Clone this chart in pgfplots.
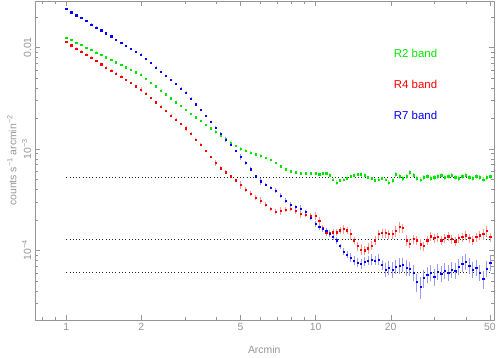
\documentclass[border=0pt]{standalone}
\usepackage{fontspec}
\setmainfont{Liberation Sans}
\usepackage{pgfplots}
\pgfplotsset{compat=1.18}
\usepackage{pgfplotstable}
\definecolor{txtgray}{RGB}{150,150,150}
\definecolor{pgreen}{RGB}{0,230,0}
\definecolor{pred}{RGB}{255,0,0}
\definecolor{pblue}{RGB}{0,0,255}

% radius, R2 (g), R4 (r), R7 (b) with relative errors
\pgfplotstableread{
x g eg r er b eb
1.000 1.25e-2 .02 1.13e-2 .03 2.39e-2 .02
1.047 1.19e-2 .02 1.05e-2 .03 2.23e-2 .02
1.096 1.12e-2 .02 9.79e-3 .03 2.08e-2 .02
1.148 1.06e-2 .02 9.12e-3 .03 1.95e-2 .02
1.202 1.00e-2 .02 8.49e-3 .03 1.82e-2 .02
1.259 9.46e-3 .02 7.91e-3 .03 1.69e-2 .02
1.318 8.95e-3 .02 7.35e-3 .03 1.58e-2 .02
1.380 8.47e-3 .02 6.84e-3 .03 1.48e-2 .02
1.445 8.00e-3 .02 6.37e-3 .03 1.38e-2 .02
1.514 7.57e-3 .02 5.93e-3 .03 1.29e-2 .02
1.585 7.16e-3 .02 5.52e-3 .03 1.20e-2 .02
1.660 6.76e-3 .02 5.14e-3 .03 1.12e-2 .02
1.738 6.40e-3 .02 4.79e-3 .03 1.04e-2 .02
1.820 6.05e-3 .02 4.46e-3 .03 9.75e-3 .02
1.905 5.71e-3 .02 4.15e-3 .03 9.10e-3 .02
1.995 5.41e-3 .03 3.86e-3 .05 8.49e-3 .03
2.089 4.94e-3 .02 3.50e-3 .03 7.71e-3 .02
2.188 4.52e-3 .02 3.18e-3 .03 7.01e-3 .02
2.291 4.14e-3 .02 2.88e-3 .03 6.37e-3 .02
2.399 3.78e-3 .02 2.61e-3 .03 5.79e-3 .02
2.512 3.46e-3 .02 2.37e-3 .03 5.26e-3 .02
2.630 3.16e-3 .02 2.14e-3 .03 4.79e-3 .02
2.754 2.89e-3 .02 1.95e-3 .03 4.36e-3 .02
2.884 2.65e-3 .02 1.76e-3 .03 3.95e-3 .02
3.020 2.42e-3 .03 1.60e-3 .06 3.60e-3 .03
3.162 2.23e-3 .02 1.41e-3 .03 3.15e-3 .02
3.311 2.05e-3 .02 1.23e-3 .03 2.76e-3 .02
3.467 1.89e-3 .02 1.10e-3 .03 2.42e-3 .02
3.631 1.73e-3 .02 9.55e-4 .03 2.12e-3 .02
3.802 1.60e-3 .02 8.32e-4 .03 1.85e-3 .02
3.981 1.47e-3 .04 7.24e-4 .07 1.62e-3 .04
4.169 1.36e-3 .02 6.46e-4 .04 1.42e-3 .03
4.365 1.26e-3 .02 5.89e-4 .04 1.24e-3 .05
4.571 1.16e-3 .02 5.37e-4 .04 1.09e-3 .03
4.786 1.08e-3 .02 4.90e-4 .04 9.55e-4 .03
5.012 1.00e-3 .05 4.42e-4 .08 8.38e-4 .07
5.248 9.59e-4 .03 3.98e-4 .05 7.24e-4 .04
5.495 9.23e-4 .03 3.63e-4 .05 6.31e-4 .04
5.754 8.85e-4 .03 3.31e-4 .05 5.37e-4 .04
6.026 8.55e-4 .04 3.09e-4 .08 4.79e-4 .08
6.310 8.13e-4 .03 2.82e-4 .05 4.47e-4 .04
6.607 7.76e-4 .03 2.57e-4 .05 4.17e-4 .04
6.918 7.24e-4 .03 2.40e-4 .06 3.89e-4 .05
7.244 6.76e-4 .03 2.45e-4 .10 3.47e-4 .05
7.586 6.31e-4 .03 2.51e-4 .06 3.09e-4 .05
7.943 6.03e-4 .03 2.57e-4 .06 2.82e-4 .06
8.318 5.89e-4 .03 2.45e-4 .06 2.69e-4 .05
8.710 5.75e-4 .03 2.29e-4 .10 2.57e-4 .08
9.120 5.75e-4 .03 2.24e-4 .06 2.40e-4 .05
9.550 5.75e-4 .03 2.19e-4 .06 2.09e-4 .05
10.00 5.75e-4 .04 2.19e-4 .10 1.82e-4 .06
10.33 5.62e-4 .04 1.95e-4 .08 1.70e-4 .06
10.67 5.75e-4 .04 1.66e-4 .08 1.62e-4 .06
11.02 5.75e-4 .04 1.51e-4 .08 1.55e-4 .08
11.38 5.50e-4 .04 1.48e-4 .08 1.45e-4 .06
11.75 5.01e-4 .04 1.51e-4 .08 1.35e-4 .06
12.13 4.68e-4 .05 1.51e-4 .08 1.26e-4 .08
12.53 4.90e-4 .04 1.58e-4 .08 1.10e-4 .06
12.94 5.01e-4 .04 1.62e-4 .10 9.77e-5 .08
13.37 5.13e-4 .04 1.58e-4 .08 9.12e-5 .08
13.80 5.37e-4 .04 1.45e-4 .12 8.51e-5 .10
14.26 5.50e-4 .04 1.26e-4 .08 7.94e-5 .10
14.72 5.62e-4 .04 1.10e-4 .10 7.59e-5 .10
15.21 5.62e-4 .05 1.02e-4 .12 7.41e-5 .12
15.70 5.50e-4 .04 1.00e-4 .10 7.76e-5 .10
16.22 5.25e-4 .04 1.05e-4 .12 7.94e-5 .10
16.75 5.13e-4 .04 1.12e-4 .10 8.13e-5 .12
17.30 4.90e-4 .04 1.26e-4 .10 7.94e-5 .10
17.86 5.01e-4 .04 1.45e-4 .10 8.13e-5 .12
18.45 5.13e-4 .04 1.48e-4 .10 7.24e-5 .12
19.05 5.01e-4 .04 1.48e-4 .10 6.46e-5 .15
19.68 4.68e-4 .06 1.45e-4 .10 6.76e-5 .15
20.32 4.90e-4 .05 1.45e-4 .10 6.46e-5 .18
20.99 5.62e-4 .06 1.55e-4 .12 6.92e-5 .15
21.68 5.37e-4 .05 1.70e-4 .12 7.08e-5 .18
22.39 5.13e-4 .05 1.66e-4 .10 7.24e-5 .15
23.12 5.37e-4 .05 1.26e-4 .12 6.76e-5 .18
23.88 5.89e-4 .06 1.17e-4 .10 6.61e-5 .15
24.66 5.50e-4 .05 1.29e-4 .10 6.03e-5 .18
25.47 5.13e-4 .05 1.26e-4 .10 4.90e-5 .20
26.30 5.01e-4 .05 1.15e-4 .12 4.37e-5 .25
27.16 5.25e-4 .05 1.10e-4 .10 5.37e-5 .20
28.05 5.37e-4 .05 1.26e-4 .10 5.75e-5 .18
28.97 5.13e-4 .05 1.38e-4 .10 6.03e-5 .18
29.92 5.25e-4 .05 1.32e-4 .10 5.50e-5 .20
30.90 5.37e-4 .05 1.35e-4 .10 6.17e-5 .18
31.92 5.50e-4 .05 1.26e-4 .10 5.89e-5 .18
32.96 5.25e-4 .05 1.32e-4 .10 6.31e-5 .18
34.04 5.37e-4 .05 1.38e-4 .10 6.03e-5 .18
35.16 5.50e-4 .05 1.29e-4 .10 6.46e-5 .18
36.31 5.25e-4 .05 1.23e-4 .10 6.31e-5 .18
37.50 5.13e-4 .05 1.32e-4 .10 6.92e-5 .18
38.73 5.37e-4 .05 1.35e-4 .10 7.41e-5 .18
39.99 5.50e-4 .05 1.41e-4 .10 7.76e-5 .18
41.30 5.25e-4 .05 1.32e-4 .10 7.08e-5 .18
42.66 5.13e-4 .05 1.26e-4 .10 6.46e-5 .18
44.06 5.37e-4 .05 1.35e-4 .10 6.76e-5 .18
45.50 5.25e-4 .05 1.41e-4 .10 6.03e-5 .18
46.99 5.01e-4 .05 1.45e-4 .12 5.25e-5 .20
48.53 5.25e-4 .05 1.55e-4 .12 6.61e-5 .18
50.12 5.37e-4 .05 1.35e-4 .10 7.59e-5 .18
}\profiles

\begin{document}
\begin{tikzpicture}
\begin{axis}[
  scale only axis,
  width=462pt, height=321pt,
  xmode=log, ymode=log,
  xmin=0.748, xmax=51.8,
  ymin=2.06e-5, ymax=2.87e-2,
  axis line style={txtgray},
  tick style={txtgray},
  major tick length=5pt, minor tick length=3pt,
  xtick={1,2,5,10,20,50},
  xticklabels={1,2,5,10,20,50},
  minor xtick={0.8,0.9,3,4,6,7,8,9,30,40},
  ytick={1e-4,1e-3,1e-2},
  yticklabels={10\textsuperscript{−4},10\textsuperscript{−3},0.01},
  minor ytick={3e-5,4e-5,5e-5,6e-5,7e-5,8e-5,9e-5,2e-4,3e-4,4e-4,5e-4,6e-4,7e-4,8e-4,9e-4,2e-3,3e-3,4e-3,5e-3,6e-3,7e-3,8e-3,9e-3,2e-2},
  tick label style={font=\fontsize{10.5}{12}\selectfont, text=txtgray},
  yticklabel style={rotate=90, anchor=south},
  xlabel={Arcmin},
  ylabel={counts s\textsuperscript{−1} arcmin\textsuperscript{−2}},
  label style={font=\fontsize{10.5}{12}\selectfont, text=txtgray},
  xlabel style={at={(axis description cs:0.5,-0.095)}, anchor=center},
  ylabel style={at={(axis description cs:-0.05,0.5)}, anchor=center},
  clip=false,
]
\addplot[black!85, line width=1pt, dash pattern=on 1pt off 2.3pt] coordinates {(1,5.28e-4) (50,5.28e-4)};
\addplot[black!85, line width=1pt, dash pattern=on 1pt off 2.3pt] coordinates {(1,1.29e-4) (50,1.29e-4)};
\addplot[black!85, line width=1pt, dash pattern=on 1pt off 2.3pt] coordinates {(1,6.08e-5) (50,6.08e-5)};

\addplot[only marks, mark=square*, mark size=0.6pt, pgreen,
  error bars/.cd, y dir=both, y explicit relative,
  error bar style={pgreen!45, line width=0.8pt}, error mark=none]
  table[x=x, y=g, y error=eg] {\profiles};
\addplot[only marks, mark=square*, mark size=0.6pt, pred,
  error bars/.cd, y dir=both, y explicit relative,
  error bar style={pred!40, line width=0.8pt}, error mark=none]
  table[x=x, y=r, y error=er] {\profiles};
\addplot[only marks, mark=square*, mark size=0.6pt, pblue,
  error bars/.cd, y dir=both, y explicit relative,
  error bar style={pblue!40, line width=0.8pt}, error mark=none]
  table[x=x, y=b, y error=eb] {\profiles};

\node[anchor=west, text=pgreen, font=\fontsize{11.5}{13}\selectfont] at (rel axis cs:0.775,0.835) {R2 band};
\node[anchor=west, text=pred, font=\fontsize{11.5}{13}\selectfont] at (rel axis cs:0.775,0.738) {R4 band};
\node[anchor=west, text=pblue, font=\fontsize{11.5}{13}\selectfont] at (rel axis cs:0.775,0.642) {R7 band};
\end{axis}
\path (-35pt,-36pt) rectangle (464pt,322pt);
\end{tikzpicture}
\end{document}
